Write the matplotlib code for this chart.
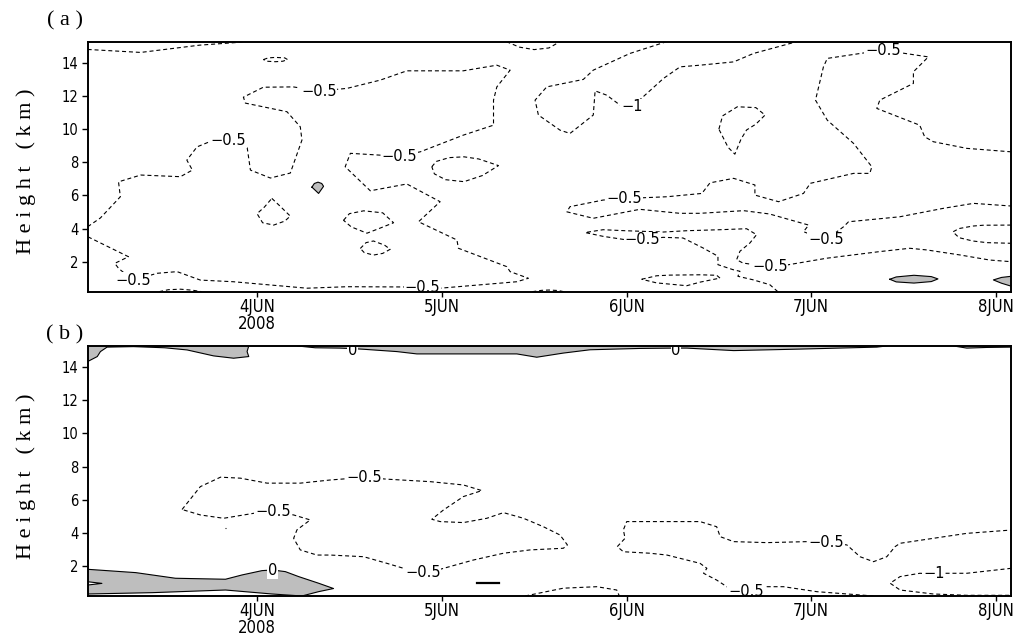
import matplotlib
matplotlib.use('Agg')
import matplotlib.pyplot as plt
from matplotlib import font_manager as fm

# axis range: time in days of June 2008, height in km
t0, t1 = 3.083, 8.083
h0, h1 = 0.19, 15.28
days = [4, 5, 6, 7, 8]
day_labels = ['4JUN\n2008', '5JUN', '6JUN', '7JUN', '8JUN']
heights = [2, 4, 6, 8, 10, 12, 14]

# ---- panel (a) contour lines, (day, km) ----
a_topleft = [(3.083, 14.81), (3.37, 14.63), (3.69, 15.07), (3.94, 15.27)]
a_toploop = [(4.035, 14.2), (4.06, 14.3), (4.10, 14.33), (4.15, 14.3), (4.165, 14.2),
             (4.14, 14.1), (4.10, 14.07), (4.05, 14.1), (4.035, 14.2)]
a_big = [(3.083, 4.11), (3.152, 4.64), (3.26, 5.92), (3.25, 6.82), (3.37, 7.23), (3.585, 7.13),
         (3.65, 7.53), (3.62, 8.13), (3.675, 8.93), (3.765, 9.34), (3.845, 9.36), (3.926, 9.34),
         (3.946, 8.93), (3.964, 7.53), (4.072, 7.05), (4.18, 7.35), (4.243, 9.34), (4.234, 10.14),
         (4.162, 11.05), (3.937, 11.57), (3.926, 11.93), (4.034, 12.53), (4.196, 12.55),
         (4.334, 12.3), (4.487, 12.46), (4.667, 12.96), (4.811, 13.52), (5.116, 13.52),
         (5.298, 13.86), (5.37, 13.56), (5.298, 12.55), (5.28, 11.75), (5.28, 10.24),
         (5.117, 9.64), (4.883, 8.63), (4.77, 8.37), (4.667, 8.43), (4.505, 8.54), (4.477, 7.73),
         (4.613, 6.28), (4.811, 6.69), (4.991, 5.62), (4.874, 4.41), (5.082, 3.31), (5.09, 2.81),
         (5.352, 1.70), (5.37, 1.40), (5.469, 1.0), (5.406, 0.79), (4.991, 0.40), (4.894, 0.47),
         (4.487, 0.49), (4.27, 0.40), (3.872, 0.79), (3.693, 0.89), (3.567, 1.40), (3.459, 1.30),
         (3.328, 0.88), (3.25, 1.6), (3.23, 1.9), (3.304, 2.30), (3.083, 3.51)]
a_bump1 = [(3.47, 0.19), (3.52, 0.31), (3.585, 0.34), (3.65, 0.28), (3.70, 0.19)]
a_tri = [(4.08, 5.82), (4.12, 5.4), (4.18, 4.75), (4.15, 4.45), (4.09, 4.21), (4.03, 4.35),
         (4.0, 4.9), (4.04, 5.3), (4.08, 5.82)]
a_oval1 = [(4.946, 7.73), (4.97, 8.05), (5.04, 8.28), (5.12, 8.33), (5.2, 8.2), (5.307, 7.8),
           (5.22, 7.2), (5.12, 6.83), (5.02, 6.95), (4.96, 7.3), (4.946, 7.73)]
a_oval2 = [(4.468, 4.5), (4.5, 4.9), (4.577, 5.07), (4.68, 4.95), (4.739, 4.35), (4.66, 4.0),
           (4.595, 3.72), (4.51, 4.1), (4.468, 4.5)]
a_oval3 = [(4.559, 2.8), (4.59, 3.15), (4.63, 3.25), (4.69, 3.0), (4.721, 2.75), (4.68, 2.5),
           (4.63, 2.4), (4.58, 2.55), (4.559, 2.8)]
a_topbump = [(5.35, 15.28), (5.42, 14.95), (5.5, 14.8), (5.58, 14.9), (5.64, 15.28)]
a_minus1 = [(6.217, 15.28), (6.019, 14.57), (5.82, 13.56), (5.766, 13.0), (5.568, 12.55),
            (5.505, 11.75), (5.523, 10.85), (5.64, 9.94), (5.694, 9.74), (5.82, 10.85),
            (5.83, 12.31), (5.893, 12.05), (5.965, 11.45), (6.028, 11.35), (6.05, 11.55),
            (6.2, 13.06), (6.29, 13.76), (6.398, 13.86), (6.58, 14.06), (6.688, 14.57), (6.922, 15.28)]
a_right = [(8.083, 8.63), (7.842, 8.84), (7.661, 9.24), (7.614, 9.54), (7.587, 10.24),
           (7.355, 11.25), (7.371, 11.75), (7.553, 12.76), (7.553, 13.46), (7.634, 14.36),
           (7.387, 14.77), (7.087, 14.27), (7.066, 13.76), (7.023, 11.75), (7.087, 10.54),
           (7.229, 9.14), (7.328, 7.73), (7.317, 7.33), (7.229, 7.33), (6.995, 6.73),
           (6.958, 6.12), (6.823, 5.62), (6.695, 6.02), (6.695, 6.63), (6.58, 7.03),
           (6.452, 6.76), (6.408, 6.12), (6.219, 5.92), (5.987, 5.81), (5.873, 5.72),
           (5.694, 5.32), (5.677, 5.01), (5.82, 4.62), (6.072, 5.16), (6.289, 4.92),
           (6.398, 4.92), (6.634, 5.08), (6.774, 4.88), (6.986, 4.21), (6.958, 3.81),
           (7.079, 3.31), (7.175, 4.11), (7.202, 4.41), (7.479, 4.71), (7.715, 5.22),
           (7.878, 5.52), (8.083, 5.36)]
a_loop8 = [(6.5, 10.0), (6.52, 10.8), (6.6, 11.35), (6.7, 11.3), (6.75, 10.85), (6.7, 10.3),
           (6.65, 9.95), (6.62, 9.4), (6.5865, 8.49), (6.55, 8.9), (6.5, 10.0)]
a_lower = [(6.819, 0.19), (6.776, 0.61), (6.684, 0.91), (6.603, 1.12), (6.614, 1.42),
           (6.576, 1.52), (6.495, 1.82), (6.495, 2.33), (6.414, 2.83), (6.306, 3.43),
           (6.198, 3.47), (6.084, 3.33), (5.992, 3.33), (5.873, 3.53), (5.776, 3.76),
           (5.873, 3.93), (5.992, 3.87), (6.198, 3.79), (6.327, 3.87), (6.506, 3.93),
           (6.65, 3.99), (6.704, 3.63), (6.668, 3.13), (6.614, 2.63), (6.596, 2.12),
           (6.63, 1.92), (6.776, 1.68), (6.868, 1.80), (7.084, 2.21), (7.371, 2.61),
           (7.533, 2.81), (7.625, 2.71), (7.803, 2.41), (7.966, 2.10), (8.083, 2.0)]
a_lens = [(6.082, 0.94), (6.163, 1.15), (6.235, 1.19), (6.398, 1.21), (6.488, 1.18),
          (6.506, 1.01), (6.40, 0.77), (6.326, 0.55), (6.163, 0.72), (6.082, 0.94)]
a_edge = [(8.083, 4.21), (7.93, 4.2), (7.874, 4.15), (7.80, 4.0), (7.767, 3.8), (7.80, 3.45),
          (7.874, 3.25), (7.95, 3.15), (8.083, 3.11)]
a_bump2 = [(5.49, 0.19), (5.54, 0.27), (5.58, 0.29), (5.63, 0.26), (5.66, 0.19)]
a_dashed = [a_topleft, a_toploop, a_big, a_bump1, a_tri, a_oval1, a_oval2, a_oval3,
            a_topbump, a_minus1, a_right, a_loop8, a_lower, a_lens, a_edge, a_bump2]

# positive (shaded) regions
a_pos1 = [(4.297, 6.5), (4.31, 6.72), (4.33, 6.8), (4.35, 6.72), (4.36, 6.55), (4.333, 6.12), (4.297, 6.5)]
a_pos2 = [(7.425, 0.94), (7.46, 1.08), (7.556, 1.18), (7.65, 1.1), (7.686, 0.96), (7.65, 0.8),
          (7.556, 0.71), (7.46, 0.78), (7.425, 0.94)]
a_pos3 = [(8.083, 1.12), (8.03, 1.05), (7.986, 0.9), (8.03, 0.7), (8.083, 0.52)]
a_shaded = [a_pos1, a_pos2, a_pos3]

a_labels = [(3.845, 9.34, '−0.5'), (4.334, 12.29, '−0.5'), (4.77, 8.37, '−0.5'),
            (4.894, 0.46, '−0.5'), (3.328, 0.88, '−0.5'), (6.028, 11.35, '−1'),
            (7.387, 14.77, '−0.5'), (5.987, 5.81, '−0.5'), (7.079, 3.31, '−0.5'),
            (6.084, 3.33, '−0.5'), (6.776, 1.68, '−0.5')]

# ---- panel (b) ----
b_loop = [(3.594, 5.41), (3.693, 6.79), (3.802, 7.36), (3.910, 7.30), (4.054, 7.0), (4.234, 7.0),
          (4.396, 7.19), (4.58, 7.35), (4.703, 7.24), (4.937, 7.09), (5.117, 6.89), (5.217, 6.55),
          (5.117, 6.19), (5.009, 5.38), (4.946, 4.82), (4.991, 4.68), (5.117, 4.62), (5.244, 4.88),
          (5.334, 5.22), (5.442, 4.88), (5.55, 4.37), (5.64, 3.87), (5.68, 3.27), (5.658, 3.07),
          (5.478, 2.97), (5.334, 2.77), (5.171, 2.36), (4.991, 1.80), (4.897, 1.61), (4.793, 1.86),
          (4.703, 2.16), (4.577, 2.56), (4.396, 2.66), (4.324, 2.66), (4.234, 2.97), (4.198, 3.67),
          (4.216, 4.18), (4.288, 4.78), (4.198, 5.08), (4.085, 5.28), (3.982, 5.18), (3.819, 4.88),
          (3.693, 5.08), (3.594, 5.41)]
b_dot = [(3.824, 4.28), (3.834, 4.28)]
b_right = [(7.337, 0.19), (7.03, 0.45), (6.85, 0.75), (6.76, 0.75), (6.646, 0.45), (6.543, 0.75),
           (6.488, 1.15), (6.417, 1.56), (6.435, 1.86), (6.398, 2.16), (6.219, 2.66), (6.127, 2.77),
           (5.983, 2.86), (5.95, 3.17), (5.992, 3.67), (5.983, 4.18), (6.001, 4.68), (6.219, 4.68),
           (6.398, 4.68), (6.488, 4.37), (6.507, 3.77), (6.58, 3.47), (6.76, 3.41), (6.976, 3.47),
           (7.083, 3.42), (7.193, 3.27), (7.264, 2.56), (7.337, 2.26), (7.409, 2.56), (7.454, 3.17),
           (7.481, 3.37), (7.661, 3.67), (7.842, 3.97), (8.083, 4.17)]
b_minus1 = [(8.083, 1.86), (7.842, 1.56), (7.716, 1.56), (7.663, 1.52), (7.588, 1.56),
            (7.481, 1.36), (7.427, 0.96), (7.481, 0.55), (7.661, 0.31), (7.842, 0.23), (8.083, 0.23)]
b_bump = [(5.451, 0.19), (5.658, 0.66), (5.839, 0.75), (5.947, 0.55), (5.961, 0.19)]
b_dashed = [b_loop, b_dot, b_right, b_minus1, b_bump]

b_top1 = [(3.083, 14.34), (3.135, 14.64), (3.152, 14.94), (3.188, 15.21), (3.331, 15.24),
          (3.50, 15.17), (3.621, 15.04), (3.765, 14.68), (3.873, 14.54), (3.955, 14.64),
          (3.946, 14.94), (3.955, 15.28)]
b_top2 = [(4.218, 15.28), (4.315, 15.17), (4.45, 15.15), (4.516, 15.12), (4.577, 15.08),
          (4.757, 14.94), (4.865, 14.8), (5.406, 14.8), (5.514, 14.6), (5.658, 14.85),
          (5.803, 15.05), (6.072, 15.13), (6.253, 15.15), (6.327, 15.15), (6.58, 15.0),
          (6.939, 15.09), (7.355, 15.21), (7.409, 15.28)]
b_top3 = [(7.77, 15.28), (7.842, 15.15), (7.95, 15.19), (8.083, 15.21)]
b_bottom = [(3.083, 1.80), (3.343, 1.60), (3.558, 1.26), (3.829, 1.20), (3.919, 1.46),
            (4.027, 1.72), (4.083, 1.76), (4.153, 1.66), (4.225, 1.36), (4.333, 0.96),
            (4.414, 0.64), (4.333, 0.45), (4.243, 0.19), (4.081, 0.31), (3.829, 0.55),
            (3.432, 0.39), (3.083, 0.31)]
b_hole = [(3.083, 1.05), (3.16, 0.95), (3.083, 0.85)]
b_stub = [(5.188, 0.96), (5.312, 0.96)]

b_labels = [(4.516, 15.0, '0'), (6.268, 15.0, '0'), (4.085, 1.70, '0'),
            (4.58, 7.35, '−0.5'), (4.085, 5.28, '−0.5'), (4.897, 1.61, '−0.5'),
            (7.083, 3.42, '−0.5'), (6.646, 0.45, '−0.5'), (7.663, 1.52, '−1')]

GRAY = '#bebebe'
DASH = (0, (3.6, 2.6))

# tick labels in the original are a tall, narrow sans; use a narrow face if there is one
names = {(f.name, str(f.stretch)) for f in fm.fontManager.ttflist}
if any(n == 'Liberation Sans Narrow' for n, s in names):
    tick_font = dict(family='Liberation Sans Narrow')
    xsize, ysize = 13.5, 12
elif any(n == 'DejaVu Sans' and s in ('condensed', '75', 'semi-condensed') for n, s in names):
    tick_font = dict(family='DejaVu Sans', stretch='condensed')
    xsize, ysize = 12, 10.5
else:
    tick_font = dict(family='Liberation Sans')
    xsize, ysize = 11, 10.5


def xy(pts):
    return [p[0] for p in pts], [p[1] for p in pts]


def setup(ax):
    ax.set_xlim(t0, t1)
    ax.set_ylim(h0, h1)
    ax.set_xticks(days)
    ax.set_xticklabels(day_labels, fontsize=xsize, linespacing=0.9, **tick_font)
    ax.set_yticks(heights)
    ax.set_yticklabels([str(v) for v in heights], fontsize=ysize, **tick_font)
    ax.tick_params(axis='x', direction='out', length=3.6, width=1, pad=1)
    ax.tick_params(axis='y', direction='out', length=4.5, width=1, pad=2)
    for s in ax.spines.values():
        s.set_linewidth(1.4)
        s.set_zorder(10)


def dashed(ax, lines):
    for pts in lines:
        x, y = xy(pts)
        ax.plot(x, y, color='k', lw=0.8, ls=DASH)


def shade(ax, pts, corner=None):
    x, y = xy(pts)
    fx, fy = list(x), list(y)
    if corner is not None:
        fx.append(corner[0])
        fy.append(corner[1])
    ax.fill(fx, fy, color=GRAY, lw=0, zorder=1)
    ax.plot(x, y, color='k', lw=0.8, zorder=2)


def labels(ax, items):
    for t, h, s in items:
        ax.text(t, h, s, ha='center', va='center', fontsize=10.5, family='DejaVu Sans',
                bbox=dict(fc='white', ec='none', pad=0.4), clip_on=True, zorder=5)


fig = plt.figure(figsize=(10.17, 6.37), dpi=100)
ax_a = fig.add_axes([0.0862, 0.5421, 0.9082, 0.3925])
ax_b = fig.add_axes([0.0862, 0.0644, 0.9082, 0.3925])

# panel a
setup(ax_a)
for pts in a_shaded:
    shade(ax_a, pts)
dashed(ax_a, a_dashed)
labels(ax_a, a_labels)

# panel b
setup(ax_b)
shade(ax_b, b_top1, corner=(t0, h1))
shade(ax_b, b_top2)
shade(ax_b, b_top3, corner=(t1, h1))
shade(ax_b, b_bottom)
hx, hy = xy(b_hole)
ax_b.fill(hx, hy, color='white', lw=0, zorder=1.5)
ax_b.plot(hx, hy, color='k', lw=0.8, zorder=2)
sx, sy = xy(b_stub)
ax_b.plot(sx, sy, color='k', lw=1.6)
dashed(ax_b, b_dashed)
labels(ax_b, b_labels)

ylab = 'H e i g h t   ( k m )'
fig.text(0.0256, 0.7308, ylab, rotation=90, ha='center', va='center',
         family='Liberation Serif', fontsize=16)
fig.text(0.0256, 0.2520, ylab, rotation=90, ha='center', va='center',
         family='Liberation Serif', fontsize=16)
fig.text(0.064, 0.967, '( a )', ha='center', va='center', family='Liberation Serif', fontsize=16)
fig.text(0.064, 0.474, '( b )', ha='center', va='center', family='Liberation Serif', fontsize=16)

fig.savefig('out.png', dpi=100)
